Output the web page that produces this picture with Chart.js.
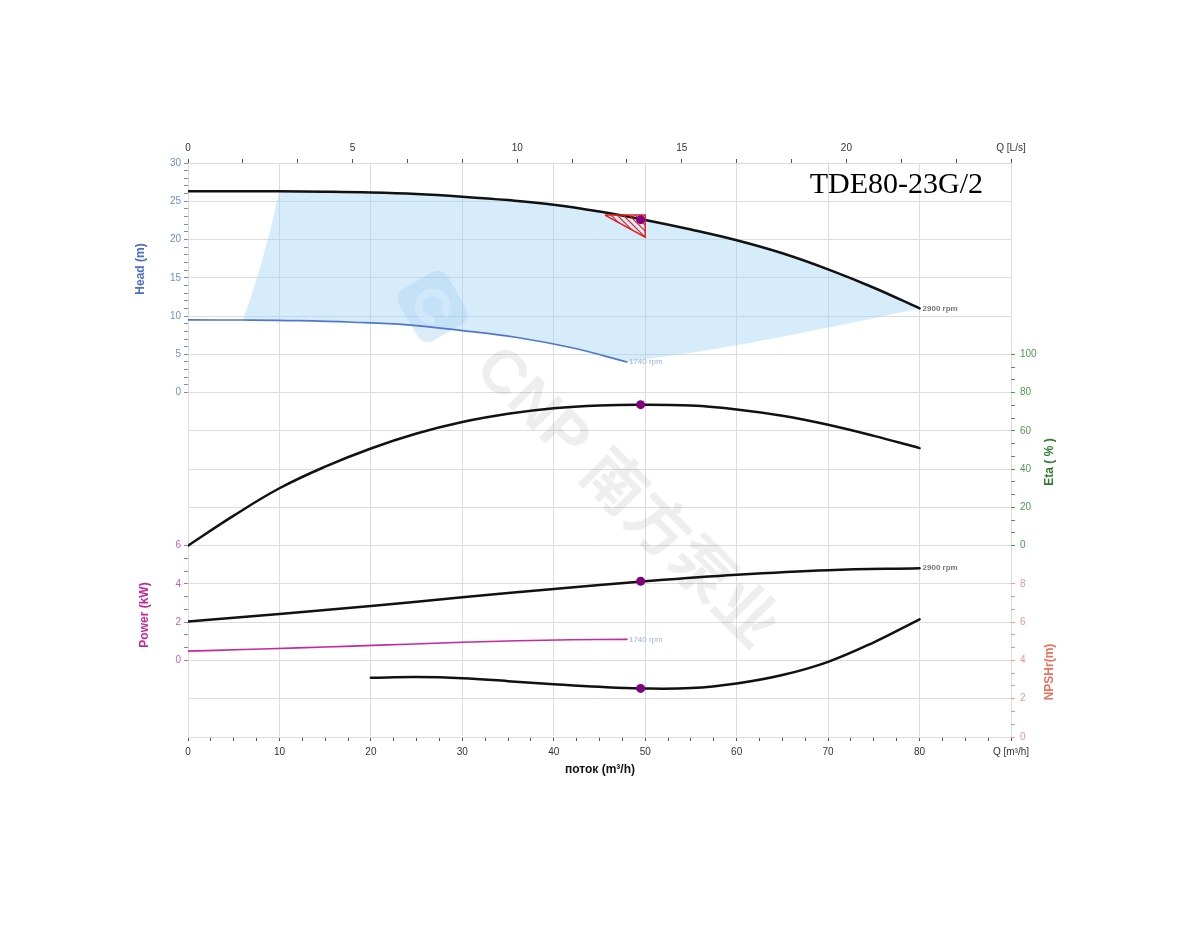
<!DOCTYPE html>
<html><head><meta charset="utf-8">
<script src="https://cdn.jsdelivr.net/npm/chart.js@4.4.0/dist/chart.umd.min.js"></script>
<style>html,body{margin:0;padding:0;background:#fff}canvas{display:block}</style>
</head><body>
<canvas id="c" width="1200" height="950"></canvas>
<script>
// ---------------- data ----------------
const flowHead2900 = [0,5,10,15,20,25,30,35,40,45,50,55,60,65,70,75,80];
const head2900     = [26.3,26.32,26.3,26.25,26.15,25.95,25.6,25.15,24.55,23.65,22.55,21.3,19.9,18.2,16.1,13.7,11.0];
const flow1740     = [0,6,12,18,24,30,36,42,48];
const head1740     = [9.5,9.48,9.4,9.2,8.85,8.1,7.2,5.85,4.0];
const power1740    = [0.49,0.57,0.66,0.75,0.85,0.95,1.03,1.08,1.10];
const flowEta      = [0,5,10,15,20,25,30,35,40,45,49.5,55,60,65,70,75,80];
const eta2900      = [0,15.7,30.0,41.3,50.8,58.6,64.6,68.9,71.8,73.3,73.7,73.2,71.2,67.9,63.2,57.4,51.0];
const flowPower    = [0,10,20,30,40,50,60,70,80];
const power2900    = [2.04,2.43,2.85,3.30,3.74,4.14,4.48,4.72,4.82];
const flowNpsh     = [20,25,30,35,40,45,49.5,55,60,65,70,75,80];
const npsh2900     = [3.10,3.13,3.07,2.92,2.76,2.62,2.54,2.56,2.80,3.24,3.93,4.95,6.15];
// operating range (shaded area) outline
const rangeFlow = [6,7,8,9,10,15,20,25,30,35,40,45,50,55,60,65,70,75,80,75,70,65,60,55,48,45,42,39,36,33,30,27,24,21,18,15,12,9,6];
const rangeHead = [9.5,12.9,16.8,21.3,26.3,26.25,26.15,25.95,25.6,25.15,24.55,23.65,22.55,21.3,19.9,18.2,16.1,13.7,11.0,9.7,8.5,7.3,6.2,5.2,4.0,5.0,5.85,6.6,7.2,7.7,8.1,8.5,8.85,9.05,9.2,9.32,9.4,9.46,9.5];
// tolerance triangle
const triFlow = [45.6,50,50,45.6];
const triHead = [23.2,23.2,20.3,23.2];
// duty point
const dutyFlow = [49.5];
const dutyHead = [22.6];
const dutyEta = [73.7];
const dutyPower = [4.14];
const dutyNpsh = [2.54];
// tick labels
const headTickLabels  = [0,5,10,15,20,25,30];
const powerTickLabels = [0,2,4,6];
const etaTickLabels   = [0,20,40,60,80,100];
const npshTickLabels  = [0,2,4,6,8];
const flowTickLabels  = [0,10,20,30,40,50,60,70,80];
const lsTickLabels    = [0,5,10,15,20];
const speedLabels = ['2900 rpm','1740 rpm'];
const title = 'TDE80-23G/2';
// axis ranges
const headMin=-45, headMax=30, powerMin=-4, powerMax=26, etaMin=-100, etaMax=200, npshMin=0, npshMax=30;
const flowMax=90, lsMax=25;

// ---------------- styling ----------------
const FONT = '"Liberation Sans", Arial, sans-serif';
const GRID = '#dcdcdc';
const HEAD_C='#4a6fc5', HEAD_T='#6f8dd2';
const POW_C='#c0289c', POW_T='#c862ae';
const ETA_C='#2f7d2f', ETA_T='#4f9a4f';
const NPSH_C='#e8735f', NPSH_T='#f0968a';
const AX_T='#333';

const pts=(xs,ys)=>xs.map((x,i)=>({x,y:ys[i]}));
const pToH = p => headMin + (p-powerMin)*(headMax-headMin)/(powerMax-powerMin);
const nToE = n => etaMin + (n-npshMin)*(etaMax-etaMin)/(npshMax-npshMin);

function tickMap(){
  const m=new Map();
  const put=(v,o)=>{const k=(+v).toFixed(3);m.set(k,Object.assign(m.get(k)||{value:+k,_lab:'',_col:'transparent',_grid:'transparent',_tick:'transparent'},o));};
  return {put, list:()=>[...m.values()].sort((a,b)=>a.value-b.value)};
}

const leftTicks = scale => {
  const t=tickMap();
  for(let v=headMin; v<=headMax+1e-6; v+=5) t.put(v,{_grid:GRID});
  for(let h=headTickLabels[0]; h<=headTickLabels[headTickLabels.length-1]; h++) t.put(h,{_tick:HEAD_T});
  headTickLabels.forEach(h=>t.put(h,{_lab:String(h),_col:HEAD_T}));
  const p0=powerTickLabels[0], p1=powerTickLabels[powerTickLabels.length-1];
  for(let k=0;k<=Math.round((p1-p0)*1.5);k++) t.put(pToH(p0+k*2/3),{_tick:POW_T});
  powerTickLabels.forEach(p=>t.put(pToH(p),{_lab:String(p),_col:POW_T}));
  scale.ticks=t.list();
};
const rightTicks = scale => {
  const t=tickMap();
  const e0=etaTickLabels[0], e1=etaTickLabels[etaTickLabels.length-1];
  for(let k=0;k<=Math.round((e1-e0)*3/20);k++) t.put(e0+k*20/3,{_tick:ETA_T});
  etaTickLabels.forEach(e=>t.put(e,{_lab:String(e),_col:ETA_T}));
  const n0=npshTickLabels[0], n1=npshTickLabels[npshTickLabels.length-1];
  for(let k=0;k<=Math.round((n1-n0)*1.5);k++) t.put(nToE(n0+k*2/3),{_tick:NPSH_T});
  npshTickLabels.forEach(n=>t.put(nToE(n),{_lab:String(n),_col:NPSH_T}));
  scale.ticks=t.list();
};
const bottomTicks = scale => {
  const t=tickMap();
  for(let k=0;k<=flowMax/2.5;k++) t.put(k*2.5,{_tick:'#555'});
  for(let v=0; v<=flowMax; v+=10) t.put(v,{_grid:GRID});
  flowTickLabels.forEach(v=>t.put(v,{_lab:String(v),_col:AX_T}));
  t.put(flowMax,{_lab:'Q [m³/h]',_col:AX_T});
  scale.ticks=t.list();
};
const topTicks = scale => {
  const t=tickMap();
  for(let k=0;k<=lsMax*3/5;k++) t.put(k*5/3,{_tick:'#555'});
  lsTickLabels.forEach(v=>t.put(v,{_lab:String(v),_col:AX_T}));
  t.put(lsMax,{_lab:'Q [L/s]',_col:AX_T});
  scale.ticks=t.list();
};

const visAxis = (position, builder, fit, pad) => ({
  type:'linear', position, display:true,
  afterBuildTicks: builder,
  afterFit: fit,
  border:{display:false},
  grid:{
    drawOnChartArea: true,
    color: c => (c.tick && c.tick._grid) || 'transparent',
    tickColor: c => (c.tick && c.tick._tick) || 'transparent',
    tickLength: 4, lineWidth: 1, tickWidth: 1
  },
  ticks:{
    autoSkip:false, maxRotation:0, minRotation:0, padding:pad,
    font:{family:FONT,size:10},
    color: c => (c.tick && c.tick._col) || '#333',
    callback: (v,i,ticks) => ticks[i] ? ticks[i]._lab : ''
  }
});

// hatch pattern for tolerance triangle
const pc=document.createElement('canvas'); pc.width=6; pc.height=6;
const pctx=pc.getContext('2d'); pctx.strokeStyle='#e02020'; pctx.lineWidth=1.2;
pctx.beginPath(); pctx.moveTo(-1,-1); pctx.lineTo(7,7); pctx.moveTo(5,-1); pctx.lineTo(7,1); pctx.moveTo(-1,5); pctx.lineTo(1,7); pctx.stroke();
const ctx0=document.getElementById('c').getContext('2d');
const hatch=ctx0.createPattern(pc,'repeat');

const curve = (data, yAxisID, color, width, order) => ({
  data, yAxisID, xAxisID:'x', borderColor:color, borderWidth:width, pointRadius:0,
  fill:false, tension:0.4, borderCapStyle:'round', borderJoinStyle:'round', order
});
const duty = (data,yAxisID) => ({
  data, yAxisID, xAxisID:'x', showLine:false, pointRadius:4.5, pointBackgroundColor:'#800080',
  pointBorderColor:'#800080', borderWidth:0, order:0
});

const textPlugin = {
  id:'texts',
  beforeDatasetsDraw(chart){
    const {ctx, chartArea:a} = chart;
    // watermark
    ctx.save();
    const wx = a.left + (a.right-a.left)*0.531, wy = a.top + (a.bottom-a.top)*0.585;
    ctx.translate(wx, wy); ctx.rotate(Math.PI/4);
    ctx.font = 'bold 62px "Liberation Sans", "Noto Sans CJK SC", sans-serif';
    ctx.fillStyle='rgba(0,0,0,0.065)'; ctx.textAlign='center'; ctx.textBaseline='middle';
    ctx.fillText('CNP 南方泵业', 0, 0);
    // logo
    ctx.translate(-272, 0);
    ctx.rotate(Math.PI/12);
    ctx.fillStyle='rgba(90,160,225,0.2)';
    ctx.beginPath(); ctx.roundRect(-30,-28,60,56,12); ctx.fill();
    ctx.strokeStyle='rgba(255,255,255,0.6)'; ctx.lineWidth=8;
    ctx.beginPath(); ctx.arc(0,0,14,0.4,Math.PI*2-0.4); ctx.stroke();
    ctx.restore();
  },
  afterDraw(chart){
    const {ctx, chartArea:a, scales:s} = chart;
    ctx.save();
    // title
    ctx.font='30px "Liberation Serif", "Times New Roman", serif';
    ctx.fillStyle='#000'; ctx.textAlign='right'; ctx.textBaseline='alphabetic';
    ctx.fillText(title, a.right-28, a.top+30);
    // speed labels
    ctx.textBaseline='middle'; ctx.textAlign='left';
    ctx.font='bold 8px '+FONT; ctx.fillStyle='#777';
    ctx.fillText(speedLabels[0], s.x.getPixelForValue(flowHead2900[flowHead2900.length-1])+3, s.yH.getPixelForValue(head2900[head2900.length-1]));
    ctx.fillText(speedLabels[0], s.x.getPixelForValue(flowPower[flowPower.length-1])+3, s.yP.getPixelForValue(power2900[power2900.length-1]));
    ctx.font='8px '+FONT; ctx.fillStyle='#9fb0dc';
    ctx.fillText(speedLabels[1], s.x.getPixelForValue(flow1740[flow1740.length-1])+2, s.yH.getPixelForValue(head1740[head1740.length-1]));
    ctx.fillText(speedLabels[1], s.x.getPixelForValue(flow1740[flow1740.length-1])+2, s.yP.getPixelForValue(power1740[power1740.length-1]));
    // axis titles
    const vt=(txt,x,y,col)=>{ctx.save();ctx.translate(x,y);ctx.rotate(-Math.PI/2);ctx.fillStyle=col;ctx.font='bold 12px '+FONT;ctx.textAlign='center';ctx.textBaseline='middle';ctx.fillText(txt,0,0);ctx.restore();};
    vt('Head (m)', a.left-47, 269, HEAD_C);
    vt('Power (kW)', a.left-43, 615, POW_C);
    vt('Eta ( % )', a.right+39, 462, ETA_C);
    vt('NPSHr(m)', a.right+39, 672, NPSH_C);
    ctx.fillStyle='#111'; ctx.font='bold 12px '+FONT; ctx.textAlign='center'; ctx.textBaseline='middle';
    ctx.fillText('поток (m³/h)', 600, a.bottom+33);
    ctx.restore();
  }
};

new Chart(ctx0, {
  type:'line',
  data:{ datasets:[
    duty(pts(dutyFlow,dutyHead),'yH'),
    duty(pts(dutyFlow,dutyEta),'yE'),
    duty(pts(dutyFlow,dutyPower),'yP'),
    duty(pts(dutyFlow,dutyNpsh),'yN'),
    curve(pts(flowHead2900,head2900),'yH','#111',2.5,2),
    curve(pts(flow1740,head1740),'yH','#4f78cc',1.6,2),
    curve(pts(flowEta,eta2900),'yE','#111',2.5,2),
    curve(pts(flowPower,power2900),'yP','#111',2.5,2),
    curve(pts(flow1740,power1740),'yP','#c8289a',1.6,2),
    curve(pts(flowNpsh,npsh2900),'yN','#111',2.5,2),
    { data:pts(triFlow,triHead), yAxisID:'yH', xAxisID:'x', borderColor:'#e02020', borderWidth:1.5,
      backgroundColor:hatch, fill:'shape', pointRadius:0, tension:0, order:1 },
    { data:pts(rangeFlow,rangeHead), yAxisID:'yH', xAxisID:'x', borderWidth:0, borderColor:'transparent',
      backgroundColor:'rgba(160,210,245,0.42)', fill:'shape', pointRadius:0, tension:0, order:10 }
  ]},
  options:{
    responsive:false, animation:false, devicePixelRatio:1, events:[],
    layout:{padding:0},
    plugins:{legend:{display:false}, tooltip:{enabled:false}},
    scales:{
      x: Object.assign(visAxis('bottom', bottomTicks, s=>{s.height=213;}, 5), {min:0, max:flowMax}),
      xT: (()=>{const o=visAxis('top', topTicks, s=>{s.height=163;}, 5); o.min=0; o.max=lsMax; o.grid.drawOnChartArea=false; return o;})(),
      yH: Object.assign(visAxis('left', leftTicks, s=>{s.width=188;}, 3), {min:headMin, max:headMax}),
      yE: (()=>{const o=visAxis('right', rightTicks, s=>{s.width=189;}, 5); o.min=etaMin; o.max=etaMax; o.grid.drawOnChartArea=false; return o;})(),
      yP: {type:'linear', display:false, min:powerMin, max:powerMax},
      yN: {type:'linear', display:false, min:npshMin, max:npshMax}
    }
  },
  plugins:[textPlugin]
});
</script>
</body></html>
